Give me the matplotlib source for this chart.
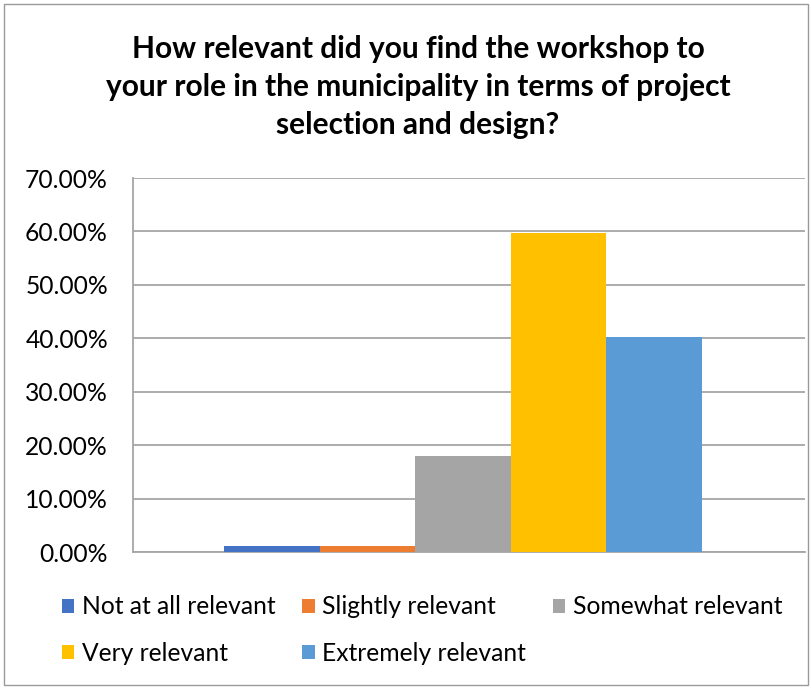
import numpy as np
import matplotlib.pyplot as plt
from matplotlib.patches import Rectangle
from matplotlib.ticker import FuncFormatter

plt.rcParams['font.family'] = ['Lato', 'DejaVu Sans']

title = 'How relevant did you find the workshop to\nyour role in the municipality in terms of project\nselection and design?'
labels = ['Not at all relevant', 'Slightly relevant', 'Somewhat relevant',
          'Very relevant', 'Extremely relevant']
values = [0.0118, 0.0118, 0.1795, 0.5970, 0.4030]
colors = ['#4472C4', '#ED7D31', '#A5A5A5', '#FFC000', '#5B9BD5']
yticks = [0.0, 0.1, 0.2, 0.3, 0.4, 0.5, 0.6, 0.7]

W, H = 812, 688
fig = plt.figure(figsize=(W/100, H/100), dpi=100)
fig.patches.append(Rectangle((4/W, 3/H), 804/W, 681/H, transform=fig.transFigure,
                             fill=False, edgecolor='#9a9a9a', lw=1.0))

ax = fig.add_axes([133/W, (H-552)/H, 672/W, 374/H])

w = 0.1423
x0 = -0.009
bars = []
for i, (lab, v, c) in enumerate(zip(labels, values, colors)):
    b = ax.bar(x0 + (i - 2) * w, v, width=w, color=c, label=lab, zorder=3)
    bars.append(b)

ax.set_xlim(-0.5, 0.5)
ax.set_ylim(0, 0.7)
ax.set_yticks(yticks)
ax.yaxis.set_major_formatter(FuncFormatter(lambda v, p: '%.2f%%' % (v * 100)))
ax.set_xticks([])
ax.grid(axis='y', color='#a6a6a6', lw=1.3, zorder=0)
for s in ['top', 'right']:
    ax.spines[s].set_visible(False)
ax.spines['left'].set_color('#a6a6a6')
ax.spines['bottom'].set_color('#a6a6a6')
ax.spines['left'].set_linewidth(1.3)
ax.spines['bottom'].set_linewidth(1.3)
ax.tick_params(axis='y', length=0, pad=18, labelsize=17.7, labelcolor='#000000')

fig.text(418/W, 1 - 87/H, title, ha='center', va='center', fontsize=21.5,
         fontweight='bold', linespacing=1.45)

# matplotlib fills legend columns first; reorder so the rows read like the reference
order = [0, 3, 1, 4, 2]
fig.legend([bars[i] for i in order], [labels[i] for i in order],
           loc='center', bbox_to_anchor=(422/W, 1 - 630/H), ncol=3, frameon=False,
           fontsize=17.7, handlelength=0.5, handleheight=0.5, handletextpad=0.3,
           columnspacing=1.1, labelspacing=0.95)

fig.savefig('out.png', dpi=100)
